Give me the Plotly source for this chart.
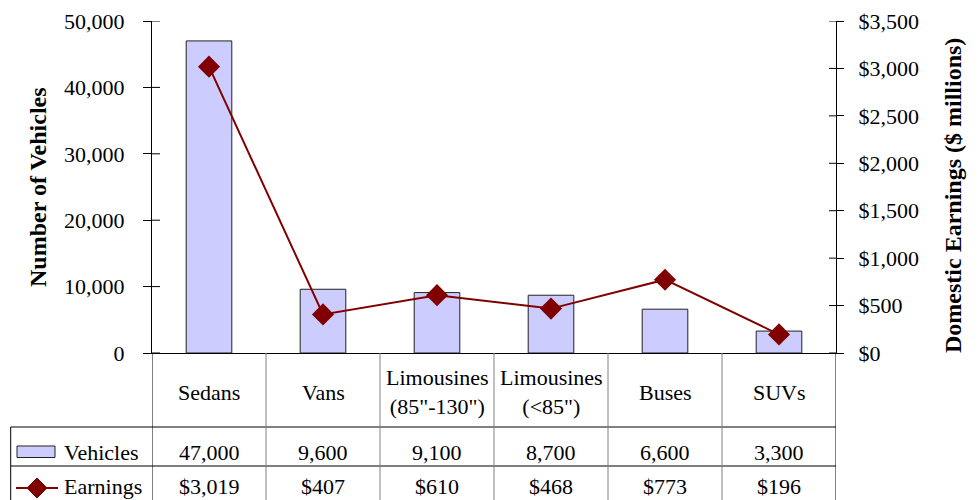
import plotly.graph_objects as go

categories = ["Sedans", "Vans", "Limousines<br>(85\"-130\")", "Limousines<br>(<85\")", "Buses", "SUVs"]
vehicles = [47000, 9600, 9100, 8700, 6600, 3300]
earnings = [3019, 407, 610, 468, 773, 196]
series_names = ["Vehicles", "Earnings"]
left_ticks = [0, 10000, 20000, 30000, 40000, 50000]
right_ticks = [0, 500, 1000, 1500, 2000, 2500, 3000, 3500]

W, H = 979, 500
FONT = "Liberation Serif"
BAR_FILL = "#CCCCFF"
LINE_COL = "#800000"

def px(x):
    return x / W

def py(y):
    return 1 - y / H

x0, x1 = 152, 836
ytop, ybot = 21, 353

fig = go.Figure()
fig.add_trace(go.Bar(x=categories, y=vehicles, name=series_names[0],
                     marker=dict(color=BAR_FILL, line=dict(color="#222222", width=1)),
                     yaxis="y", hoverinfo="skip"))
fig.add_trace(go.Scatter(x=categories, y=earnings, name=series_names[1], mode="lines+markers",
                         line=dict(color=LINE_COL, width=2),
                         marker=dict(symbol="diamond", size=17, color=LINE_COL),
                         yaxis="y2", hoverinfo="skip"))

tickfont = dict(family=FONT, size=22, color="black")

fig.update_layout(
    width=W, height=H, margin=dict(l=0, r=0, t=0, b=0, pad=0, autoexpand=False),
    paper_bgcolor="white", plot_bgcolor="white", showlegend=False,
    bargap=0.6,
    xaxis=dict(domain=[px(x0), px(x1)], type="category", range=[-0.5, 5.5],
               showticklabels=False, ticks="", showgrid=False, zeroline=False,
               showline=True, linecolor="#000000", linewidth=1, automargin=False),
    yaxis=dict(range=[0, 50000], tickmode="array", tickvals=left_ticks,
               ticktext=[f"{v:,}" for v in left_ticks], ticks="outside", ticklen=8,
               tickcolor="black", showline=True, linecolor="black", linewidth=1,
               showgrid=False, zeroline=False, tickfont=tickfont, ticklabelstandoff=14,
               domain=[py(ybot), py(ytop)], automargin=False),
    yaxis2=dict(range=[0, 3500], tickmode="array", tickvals=right_ticks,
                ticktext=[f"${v:,}" for v in right_ticks], ticks="outside",
                ticklen=7, tickcolor="black", showline=True, linecolor="black", linewidth=1,
                showgrid=False, zeroline=False, tickfont=tickfont, overlaying="y", side="right",
                ticklabelstandoff=10, automargin=False),
)

# axis titles
fig.add_annotation(text="<b>Number of Vehicles</b>", x=px(23), y=py(187), xref="paper", yref="paper",
                   textangle=-90, showarrow=False, font=dict(family=FONT, size=24, color="black"))
fig.add_annotation(text="<b>Domestic Earnings ($ millions)</b>", x=px(968), y=py(196), xref="paper",
                   yref="paper", textangle=-90, showarrow=False,
                   font=dict(family=FONT, size=24, color="black"))

shapes = []
# inner halves of the crossing tick marks
for v in left_ticks:
    shapes.append(dict(type="line", xref="paper", yref="y", x0=px(x0), x1=px(x0 + 8),
                       y0=v, y1=v, line=dict(color="black", width=1)))
for v in right_ticks:
    shapes.append(dict(type="line", xref="paper", yref="y2", x0=px(x1 - 7), x1=px(x1),
                       y0=v, y1=v, line=dict(color="black", width=1)))

# data table
y_head_bot, y_row1_bot, y_end = 427, 466, 505
left_tab = 10.7
for yy in (y_head_bot, y_row1_bot):
    shapes.append(dict(type="line", xref="paper", yref="paper", x0=px(left_tab), x1=px(x1),
                       y0=py(yy), y1=py(yy), line=dict(color="black", width=1)))
shapes.append(dict(type="line", xref="paper", yref="paper", x0=px(left_tab), x1=px(left_tab),
                   y0=py(y_head_bot), y1=py(y_end), line=dict(color="black", width=1)))
n = len(categories)
for i in range(n + 1):
    outer = i in (0, n)
    shapes.append(dict(type="line", xref="x", yref="paper", x0=i - 0.5, x1=i - 0.5,
                       y0=py(ybot), y1=py(y_end),
                       line=dict(color="black" if outer else "#808080", width=1)))
# legend keys
shapes.append(dict(type="rect", xref="paper", yref="paper", x0=px(17), x1=px(55),
                   y0=py(457.5), y1=py(446), fillcolor=BAR_FILL, line=dict(color="#222222", width=1)))
shapes.append(dict(type="line", xref="paper", yref="paper", x0=px(16), x1=px(58),
                   y0=py(488), y1=py(488), line=dict(color=LINE_COL, width=2)))
cx, cy, r = 37, 488, 10
shapes.append(dict(type="path", xref="paper", yref="paper",
                   path=f"M {px(cx)} {py(cy - r)} L {px(cx + r)} {py(cy)} L {px(cx)} {py(cy + r)} L {px(cx - r)} {py(cy)} Z",
                   fillcolor=LINE_COL, line=dict(color=LINE_COL, width=1)))
fig.update_layout(shapes=shapes)

cellfont = dict(family=FONT, size=22, color="black")
for i, c in enumerate(categories):
    fig.add_annotation(text=c, x=i, y=py(392), xref="x", yref="paper", showarrow=False,
                       font=cellfont, yanchor="middle")
    fig.add_annotation(text=f"{vehicles[i]:,}", x=i, y=py(452), xref="x", yref="paper",
                       showarrow=False, font=cellfont, yanchor="middle")
    fig.add_annotation(text=f"${earnings[i]:,}", x=i, y=py(486), xref="x", yref="paper",
                       showarrow=False, font=cellfont, yanchor="middle")

fig.add_annotation(text=series_names[0], x=px(62), y=py(452), xref="paper", yref="paper",
                   xanchor="left", showarrow=False, font=cellfont, yanchor="middle")
fig.add_annotation(text=series_names[1], x=px(62), y=py(486), xref="paper", yref="paper",
                   xanchor="left", showarrow=False, font=cellfont, yanchor="middle")

fig.write_html("out.html")
